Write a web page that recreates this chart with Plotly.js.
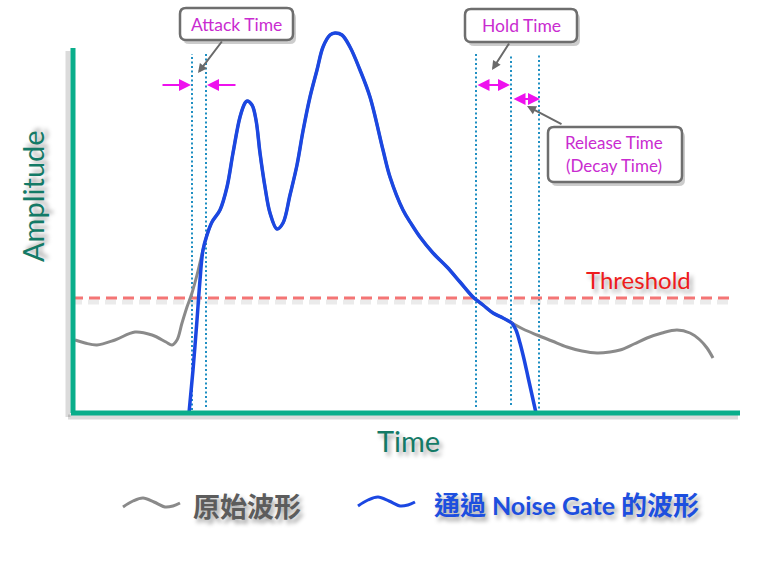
<!DOCTYPE html>
<html>
<head>
<meta charset="utf-8">
<script src="https://cdn.plot.ly/plotly-3.0.1.min.js"></script>
<style>html,body{margin:0;padding:0;background:#fff;}#chart{width:760px;height:562px;}</style>
</head>
<body>
<div id="chart"></div>
<script>
// ---- Data (time units, amplitude units) ----
const originalTime = [3,13,25,43,63,80,94,100,105,110,115,120,126,131,135,140,148,155,161,168,173,175,180,184,188,193,198,205,211,218,225,231,238,245,251,258,263,270,278,288,298,311,318,331,340,348,361,375,388,401,411,421,431,440,451,465,480,495,510,525,538,548,562,575,590,605,618,628,635,641];
const originalAmp  = [73,70,68,73,81,78,71,68,73,90,106,120,142,163,178,191,203,226,260,296,310,312,308,293,260,226,200,184,190,218,248,282,316,343,366,378,380,378,366,343,316,263,236,203,188,176,160,146,131,116,108,100,95,90,84,78,72,66,62,60,61,63,69,75,80,83,80,73,65,55];

const gatedTime = [117,121,125,128,131,135,140,148,155,161,168,173,175,180,184,188,193,198,205,211,218,225,231,238,245,251,258,263,270,278,288,298,311,318,331,340,348,361,375,388,401,411,421,431,440];
const gatedAmp  = [0,43,93,133,163,178,191,203,226,260,296,310,312,308,293,260,226,200,184,190,218,248,282,316,343,366,378,380,378,366,343,316,263,236,203,188,176,160,146,131,116,108,100,95,90];
const releaseTime = [440,444,448,452,456,460,464];
const releaseAmp  = [90,83,70,54,36,18,0];

const thresholdLevel = 115;
const thresholdSpan = [0, 658];
const markerTimes = [120, 134, 404, 439, 467];   // attack start/end, hold start, release start/end
const markerBottoms = [3, 6, 6, 8, 0];
const markerTop = 359;

const legendIconT = [0,10,20,31,42,50,57];
const legendIconA = [-94,-88,-85,-89,-94,-93,-90];

const labels = {
  attack: "Attack Time",
  hold: "Hold Time",
  release1: "Release Time",
  release2: "(Decay Time)",
  threshold: "Threshold",
  xTitle: "Time",
  yTitle: "Amplitude",
  legendOriginal: "原始波形",
  legendGated: "通過 Noise Gate 的波形"
};

// ---- Styles ----
const GREEN = '#0aae8b', TEAL_TXT = '#137a66', GRAY = '#8a8a8a', BLUE = '#1b47e2',
      DOT = '#1f8fc2', MAG = '#ee11ee', MAG_TXT = '#c92bd0', RED = '#ee1c1c';
const FONT = "Lato, 'Noto Sans', sans-serif";
const CJK = "'Noto Sans CJK TC', 'Noto Sans CJK SC', sans-serif";
const SHADOW = "3px 4px 4px rgba(0,0,0,0.35)";

const traces = [];
// gate markers (dotted verticals)
markerTimes.forEach((t, i) => {
  traces.push({x:[t,t], y:[markerBottoms[i], markerTop], mode:'lines',
    line:{color:DOT, width:2, dash:'2px,2.5px'}, hoverinfo:'skip', showlegend:false});
});
// threshold shadow + line
traces.push({x:thresholdSpan.map(v=>v-1), y:[thresholdLevel-4, thresholdLevel-4], mode:'lines',
  line:{color:'rgba(0,0,0,0.08)', width:5, dash:'11px,6px'}, hoverinfo:'skip', showlegend:false});
traces.push({x:thresholdSpan, y:[thresholdLevel, thresholdLevel], mode:'lines',
  line:{color:'#f47575', width:3, dash:'11px,6px'}, hoverinfo:'skip', showlegend:false});
// original waveform
traces.push({x:originalTime, y:originalAmp, mode:'lines', line:{color:GRAY, width:3, shape:'spline', smoothing:1},
  hoverinfo:'skip', showlegend:false});
// gated waveform
traces.push({x:gatedTime, y:gatedAmp, mode:'lines', line:{color:BLUE, width:3.5, shape:'spline', smoothing:1},
  hoverinfo:'skip', showlegend:false});
traces.push({x:releaseTime, y:releaseAmp, mode:'lines', line:{color:BLUE, width:3.5, shape:'spline', smoothing:1},
  hoverinfo:'skip', showlegend:false});
// legend icons
traces.push({x:legendIconT.map(v=>v+51), y:legendIconA, mode:'lines', line:{color:GRAY, width:3, shape:'spline'},
  hoverinfo:'skip', showlegend:false});
traces.push({x:legendIconT.map(v=>v+286), y:legendIconA.map(v=>v+1), mode:'lines', line:{color:BLUE, width:3, shape:'spline'},
  hoverinfo:'skip', showlegend:false});

function rr(x0,y0,x1,y1,r){ // y0 bottom, y1 top
  return `M ${x0+r} ${y1} L ${x1-r} ${y1} Q ${x1} ${y1} ${x1} ${y1-r} L ${x1} ${y0+r} Q ${x1} ${y0} ${x1-r} ${y0} `+
         `L ${x0+r} ${y0} Q ${x0} ${y0} ${x0} ${y0+r} L ${x0} ${y1-r} Q ${x0} ${y1} ${x0+r} ${y1} Z`;
}
const boxes = [[108,373,221,405],[393,371,505,404],[476,231,610,286]];
const shapes = [];
boxes.forEach(b => {
  shapes.push({type:'path', path:rr(b[0]+3,b[1]-4,b[2]+3,b[3]-4,6), xref:'x', yref:'y',
    fillcolor:'rgba(0,0,0,0.2)', line:{width:0}, layer:'above'});
  shapes.push({type:'path', path:rr(b[0],b[1],b[2],b[3],6), xref:'x', yref:'y',
    fillcolor:'#ffffff', line:{color:'#6e6e6e', width:2.5}, layer:'above'});
});
// axes with shadow
shapes.push({type:'line', xref:'x', yref:'y', x0:-4, x1:-4, y0:-4, y1:362, line:{color:'rgba(0,0,0,0.14)', width:5}, layer:'below'});
shapes.push({type:'line', xref:'x', yref:'y', x0:-4, x1:666, y0:-4, y1:-4, line:{color:'rgba(0,0,0,0.14)', width:5}, layer:'below'});
shapes.push({type:'line', xref:'x', yref:'y', x0:1, x1:1, y0:0, y1:365, line:{color:GREEN, width:5}, layer:'above'});
shapes.push({type:'line', xref:'x', yref:'y', x0:-1, x1:668, y0:0, y1:0, line:{color:GREEN, width:5}, layer:'above'});

const ann = [];
function arrow(x,y,ax,ay,color,side,width,size){
  ann.push({x:x, y:y, ax:ax, ay:ay, xref:'x', yref:'y', axref:'x', ayref:'y', text:'', showarrow:true,
    arrowhead:2, arrowside:side||'end', arrowcolor:color, arrowwidth:width||2, arrowsize:size||1, standoff:0, startstandoff:0});
}
arrow(119,328,89,328,MAG,'end',2,1.2);
arrow(135,328,165,328,MAG,'end',2,1.2);
arrow(438,328,404,328,MAG,'end+start',2,1.2);
arrow(468,314,440,314,MAG,'end+start',2,1.2);
arrow(126,340,151,373,'#6a6a6a','end',2,0.9);
arrow(420,343,438,371,'#6a6a6a','end',2,0.9);
arrow(455,307,491,288,'#6a6a6a','end',2,0.9);

function txt(x,y,text,size,color,extra){
  ann.push(Object.assign({x:x, y:y, xref:'x', yref:'y', text:text, showarrow:false,
    font:{family:FONT, size:size, color:color}, xanchor:'center', yanchor:'middle'}, extra||{}));
}
txt(164,389,labels.attack,17.5,MAG_TXT);
txt(449,388,labels.hold,17.5,MAG_TXT);
txt(542,271,labels.release1,17,MAG_TXT);
txt(542,248,labels.release2,17,MAG_TXT);
txt(566,134,labels.threshold,24,RED,{font:{family:FONT,size:24,color:RED,shadow:SHADOW}});
txt(336,-27,labels.xTitle,29,TEAL_TXT,{font:{family:FONT,size:29,color:TEAL_TXT,shadow:SHADOW}});
txt(-40,217,labels.yTitle,29,TEAL_TXT,{textangle:-90,font:{family:FONT,size:29,color:TEAL_TXT,shadow:SHADOW}});
txt(175,-92,'<b>'+labels.legendOriginal+'</b>',27,'#5c5c5c',{font:{family:CJK,size:27,color:'#5c5c5c',shadow:SHADOW}});
const gp = labels.legendGated.split(' ');
txt(494,-90,'<b>'+gp[0]+' <span style="font-family:Lato;font-size:25px">'+gp[1]+' '+gp[2]+'</span> '+gp[3]+'</b>',26,'#1d4fdf',
  {font:{family:CJK,size:26,color:'#1d4fdf',shadow:SHADOW}});

const layout = {
  width:760, height:562, margin:{l:0,r:0,t:0,b:0}, paper_bgcolor:'#fff', plot_bgcolor:'#fff',
  xaxis:{range:[-72,688], visible:false, fixedrange:true},
  yaxis:{range:[-149,413], visible:false, fixedrange:true},
  shapes:shapes, annotations:ann, showlegend:false, font:{family:FONT}
};
Plotly.newPlot('chart', traces, layout, {displayModeBar:false, staticPlot:true});
</script>
</body>
</html>
